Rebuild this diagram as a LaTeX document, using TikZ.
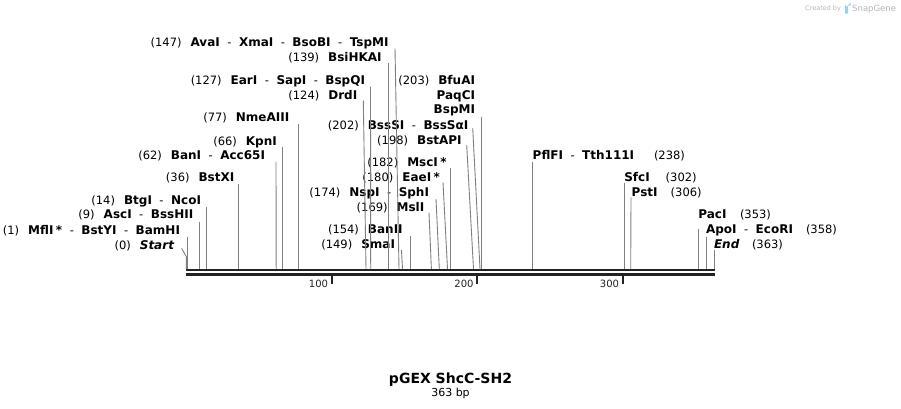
\documentclass[tikz,border=0pt]{standalone}
\usepackage{fontspec}
\setmainfont{DejaVu Sans}
\definecolor{cutgray}{HTML}{808080}
\definecolor{seqdark}{HTML}{222222}
\definecolor{wmgray}{HTML}{B4B4B4}
\definecolor{wmblue}{HTML}{9CCFF0}
\newcommand{\enznum}[1]{{\mdseries\fontsize{11.5}{14}\selectfont(#1)}}
\newcommand{\enzsep}{\hspace{7.5pt}{\mdseries\fontsize{11.5}{14}\selectfont-}\hspace{7.5pt}}
\newcommand{\enzgap}{\hspace{9pt}}
\newcommand{\enzstar}{\hspace{2.5pt}*}
\tikzset{
  lbl/.style={inner sep=0pt, outer sep=0pt, font=\fontsize{12}{14}\selectfont\bfseries},
  lblL/.style={lbl, anchor=base east},
  lblR/.style={lbl, anchor=base west},
  numR/.style={inner sep=0pt, outer sep=0pt, anchor=base west, font=\fontsize{11.5}{14}\selectfont},
  cutline/.style={draw=cutgray, line width=0.9pt},
  seqline/.style={draw=seqdark, line width=2.4pt},
  tickline/.style={draw=seqdark, line width=2pt},
  axislbl/.style={inner sep=0pt, outer sep=0pt, anchor=base east, font=\fontsize{10}{12}\selectfont, text=seqdark},
}
\begin{document}
\begin{tikzpicture}[x=1pt,y=-1pt]
\useasboundingbox (0,0) rectangle (901,408);

% sequence
\coordinate (seqL1) at (186,270.2);
\coordinate (seqR1) at (714.5,270.2);
\coordinate (seqL2) at (186,274.4);
\coordinate (seqR2) at (714.5,274.4);
\draw[seqline] (seqL1) -- (seqR1);
\draw[seqline] (seqL2) -- (seqR2);

% ticks
\coordinate (k100a) at (331.5,275.5); \coordinate (k100b) at (331.5,284);
\coordinate (k200a) at (477,275.5);   \coordinate (k200b) at (477,284);
\coordinate (k300a) at (622.5,275.5); \coordinate (k300b) at (622.5,284);
\draw[tickline] (k100a) -- (k100b);
\draw[tickline] (k200a) -- (k200b);
\draw[tickline] (k300a) -- (k300b);
\node[axislbl] (a100) at (328,287) {100};
\node[axislbl] (a200) at (473.5,287) {200};
\node[axislbl] (a300) at (619,287) {300};

% left-side labels
\node[lblL] (l147) at (388.5,46.5) {\enznum{147}\enzgap AvaI\enzsep XmaI\enzsep BsoBI\enzsep TspMI};
\node[lblL] (l139) at (381.7,61.5) {\enznum{139}\enzgap BsiHKAI};
\node[lblL] (l127) at (365,84.5) {\enznum{127}\enzgap EarI\enzsep SapI\enzsep BspQI};
\node[lblL] (l124) at (357.3,99.5) {\enznum{124}\enzgap DrdI};
\node[lblL] (l77) at (289.3,121.5) {\enznum{77}\enzgap NmeAIII};
\node[lblR] (l66) at (213.3,145.5) {\enznum{66}\enzgap KpnI};
\node[lblR] (l62) at (138.3,159.5) {\enznum{62}\enzgap BanI\enzsep Acc65I};
\node[lblL] (l36) at (234.3,181.5) {\enznum{36}\enzgap BstXI};
\node[lblL] (l14) at (201,204) {\enznum{14}\enzgap BtgI\enzsep NcoI};
\node[lblL] (l9) at (193.3,218.8) {\enznum{9}\enzgap AscI\enzsep BssHII};
\node[lblL] (l1) at (180,234.8) {\enznum{1}\enzgap MflI\enzstar\enzsep BstYI\enzsep BamHI};
\node[lblL] (l0) at (174,249) {\enznum{0}\enzgap\itshape Start};
\node[lblL] (l202) at (468.3,129.5) {\enznum{202}\enzgap BssSI\enzsep BssSαI};
\node[lblL] (l198) at (461.7,144.5) {\enznum{198}\enzgap BstAPI};
\node[lblL] (l182) at (446.7,166.5) {\enznum{182}\enzgap MscI\enzstar};
\node[lblL] (l180) at (440,181.5) {\enznum{180}\enzgap EaeI\enzstar};
\node[lblL] (l174) at (429,196) {\enznum{174}\enzgap NspI\enzsep SphI};
\node[lblL] (l169) at (424.3,211) {\enznum{169}\enzgap MslI};
\node[lblL] (l154) at (402.7,233.5) {\enznum{154}\enzgap BanII};
\node[lblL] (l149) at (395,248.5) {\enznum{149}\enzgap SmaI};
\node[lblL] (l203) at (475,84.5) {\enznum{203}\enzgap BfuAI};
\node[lblL] (l203b) at (475,99) {PaqCI};
\node[lblL] (l203c) at (475,113.5) {BspMI};

% right-side labels
\node[lblR] (r238) at (532.7,159.5) {PflFI\enzsep Tth111I};
\node[numR] (r238n) at (654,159.5) {(238)};
\node[lblR] (r302) at (624.3,181.5) {SfcI};
\node[numR] (r302n) at (665.7,181.5) {(302)};
\node[lblR] (r306) at (631.7,196) {PstI};
\node[numR] (r306n) at (670.7,196) {(306)};
\node[lblR] (r353) at (698.3,218.5) {PacI};
\node[numR] (r353n) at (740,218.5) {(353)};
\node[lblR] (r358) at (706,233.5) {ApoI\enzsep EcoRI};
\node[numR] (r358n) at (806,233.5) {(358)};
\node[lblR] (r363) at (714,248.5) {\itshape End};
\node[numR] (r363n) at (752,248.5) {(363)};

% cut-site lines: top point -> site on sequence
\coordinate (t147) at (395,48.5);   \coordinate (s147) at (399,269);
\coordinate (t139) at (388.2,63);   \coordinate (s139) at (388.2,269);
\coordinate (t127) at (370.5,86.5); \coordinate (s127) at (370.7,269);
\coordinate (t124) at (363.3,100.5);\coordinate (s124) at (366,269);
\coordinate (t77) at (298.5,124);   \coordinate (s77) at (298.5,269);
\coordinate (t66) at (282,146.5);   \coordinate (s66) at (282,269);
\coordinate (t62) at (276,161.5);   \coordinate (s62) at (276.2,269);
\coordinate (t36) at (238.2,183.5); \coordinate (s36) at (238.2,269);
\coordinate (t14) at (206.6,206.7); \coordinate (s14) at (206.6,269);
\coordinate (t9) at (199.2,221.7);  \coordinate (s9) at (199.2,269);
\coordinate (t1) at (187.3,236.7);  \coordinate (s1) at (187.3,269);
\coordinate (t0) at (181.7,248.3);  \coordinate (m0) at (186.3,256.7); \coordinate (s0) at (186.3,269);
\coordinate (t202) at (472.7,128);  \coordinate (s202) at (480,269);
\coordinate (t198) at (466.7,145);  \coordinate (s198) at (473.5,269);
\coordinate (t182) at (450.7,168.3);\coordinate (s182) at (450.7,269);
\coordinate (t180) at (443,182.3);  \coordinate (s180) at (447.5,269);
\coordinate (t174) at (436,199);    \coordinate (s174) at (439.3,269);
\coordinate (t169) at (429,212.7);  \coordinate (s169) at (431.4,269);
\coordinate (t154) at (410.3,236);  \coordinate (s154) at (410.3,269);
\coordinate (t149) at (401.5,250);  \coordinate (s149) at (402.5,269);
\coordinate (t203) at (481.5,117.3);\coordinate (s203) at (481.5,269);
\coordinate (t238) at (532.3,162.3);\coordinate (s238) at (532.3,269);
\coordinate (t302) at (624.3,182.7);\coordinate (s302) at (624.3,269);
\coordinate (t306) at (631,197.3);  \coordinate (s306) at (630.7,269);
\coordinate (t353) at (698.5,228.5);\coordinate (s353) at (698.5,269);
\coordinate (t358) at (706.7,237.3);\coordinate (s358) at (706.7,269);
\coordinate (t363) at (714,250);    \coordinate (s363) at (714,269);

\foreach \p in {147,139,127,124,77,66,62,36,14,9,1,202,198,182,180,174,169,154,149,203,238,302,306,353,358,363}
  \draw[cutline] (t\p) -- (s\p);
\draw[cutline] (t0) -- (m0) -- (s0);

% title
\node[inner sep=0pt, anchor=base, font=\fontsize{14}{16}\selectfont\bfseries] (title) at (450.5,383) {pGEX ShcC-SH2};
\node[inner sep=0pt, anchor=base, font=\fontsize{11}{13}\selectfont] (size) at (450.5,396) {363 bp};

% watermark
\node[inner sep=0pt, anchor=base west, font=\fontsize{6.5}{8}\selectfont, text=wmgray] (wm1) at (805,10) {Created by};
\fill[wmblue] (845.2,13.5) -- (845.2,4.5) arc[start angle=180, end angle=90, radius=2] -- (850.5,2.5) -- (850.5,5.5) -- (848,5.5) -- (848,13.5) -- cycle;
\node[inner sep=0pt, anchor=base west, font=\fontsize{8.5}{10}\selectfont, text=wmgray] (wm2) at (852,11) {SnapGene};
\end{tikzpicture}
\end{document}
